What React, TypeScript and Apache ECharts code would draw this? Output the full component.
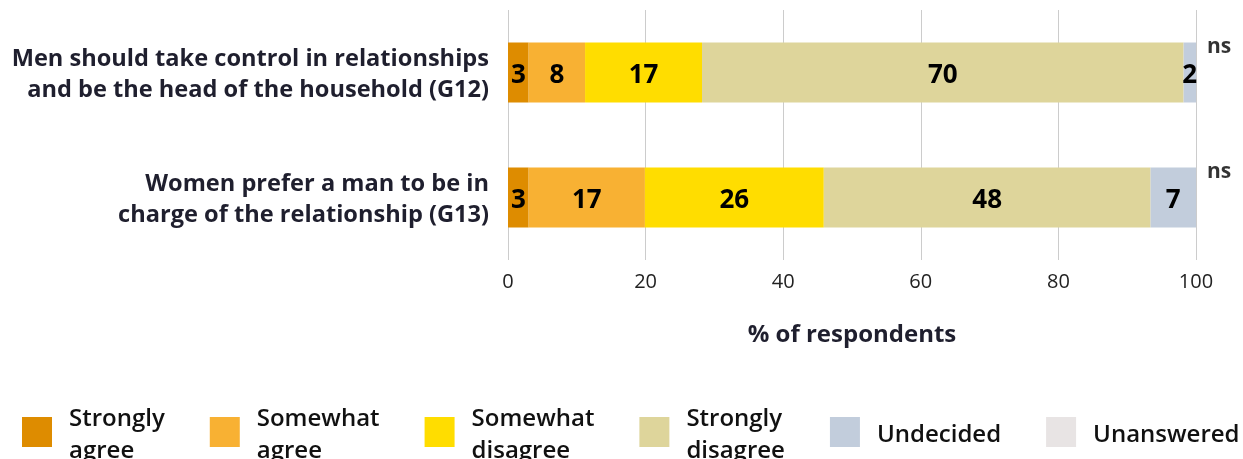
import React, { useEffect, useRef } from "react";
import * as echarts from "echarts";

const categories = [
  "Men should take control in relationships\nand be the head of the household (G12)",
  "Women prefer a man to be in\ncharge of the relationship (G13)",
];
const seriesNames = [
  "Strongly\nagree",
  "Somewhat\nagree",
  "Somewhat\ndisagree",
  "Strongly\ndisagree",
  "Undecided",
  "Unanswered",
];
const stronglyAgree = [3, 3];
const somewhatAgree = [8.2, 16.9];
const somewhatDisagree = [17, 26];
const stronglyDisagree = [70, 47.5];
const undecided = [1.8, 6.6];
const unanswered = [0, 0];
const significance = ["ns", "ns"];
const xTicks = [0, 20, 40, 60, 80, 100];

const colors = ["#DE8C00", "#F8B133", "#FFDD00", "#DED59B", "#C2CDDC", "#E8E4E4"];
const FONT = "Open Sans";

export default function App() {
  const ref = useRef<HTMLDivElement>(null);
  useEffect(() => {
    if (!ref.current) return;
    const chart = echarts.init(ref.current, null, { renderer: "svg" });
    const values = [stronglyAgree, somewhatAgree, somewhatDisagree, stronglyDisagree, undecided, unanswered];
    const barSeries = values.map((arr, i) => ({
      name: seriesNames[i],
      type: "bar",
      stack: "total",
      barWidth: 60,
      itemStyle: { color: colors[i] },
      label: {
        show: true,
        position: "inside",
        color: "#000",
        fontFamily: FONT,
        fontWeight: "bold",
        fontSize: 26,
        formatter: (p: any) => (p.value > 0 ? String(Math.round(p.value)) : ""),
      },
      data: arr,
    }));
    chart.setOption({
      animation: false,
      textStyle: { fontFamily: FONT },
      grid: { left: 508, right: 47, top: 10, height: 250 },
      xAxis: {
        type: "value",
        min: 0,
        max: 100,
        interval: 20,
        axisLine: { show: false },
        axisTick: { show: false },
        splitLine: { show: true, lineStyle: { color: "#cccccc", width: 1 } },
        axisLabel: {
          color: "#222",
          fontSize: 20,
          fontFamily: FONT,
          margin: 10,
          formatter: (v: number) => (xTicks.includes(v) ? String(v) : ""),
        },
        name: "% of respondents",
        nameLocation: "middle",
        nameGap: 60,
        nameTextStyle: { color: "#1f1f2e", fontSize: 24, fontWeight: "bold", fontFamily: FONT },
      },
      yAxis: {
        type: "category",
        inverse: true,
        data: categories,
        axisLine: { show: false },
        axisTick: { show: false },
        axisLabel: {
          color: "#1f1f2e",
          fontSize: 23.6,
          fontWeight: "bold",
          fontFamily: FONT,
          lineHeight: 31,
          margin: 19,
          align: "right",
        },
      },
      legend: {
        left: 17,
        top: 395,
        width: 1400,
        itemWidth: 30,
        itemHeight: 30,
        itemGap: 45,
        icon: "rect",
        data: seriesNames,
        textStyle: {
          color: "#111",
          fontSize: 24,
          fontWeight: 600,
          fontFamily: FONT,
          lineHeight: 32,
          padding: [0, 0, 0, 12],
        },
      },
      series: [
        ...barSeries,
        {
          type: "scatter",
          clip: false,
          symbolSize: 0,
          silent: true,
          data: categories.map((c, i) => [100, c, significance[i]]),
          label: {
            show: true,
            position: "right",
            offset: [6, -28],
            color: "#000",
            fontFamily: FONT,
            fontWeight: "bold",
            fontSize: 21,
            formatter: (p: any) => p.value[2],
          },
        },
      ],
    });
    return () => chart.dispose();
  }, []);
  return (
    <div
      ref={ref}
      style={{ position: "fixed", left: 0, top: 0, width: 1243, height: 459 }}
    />
  );
}
